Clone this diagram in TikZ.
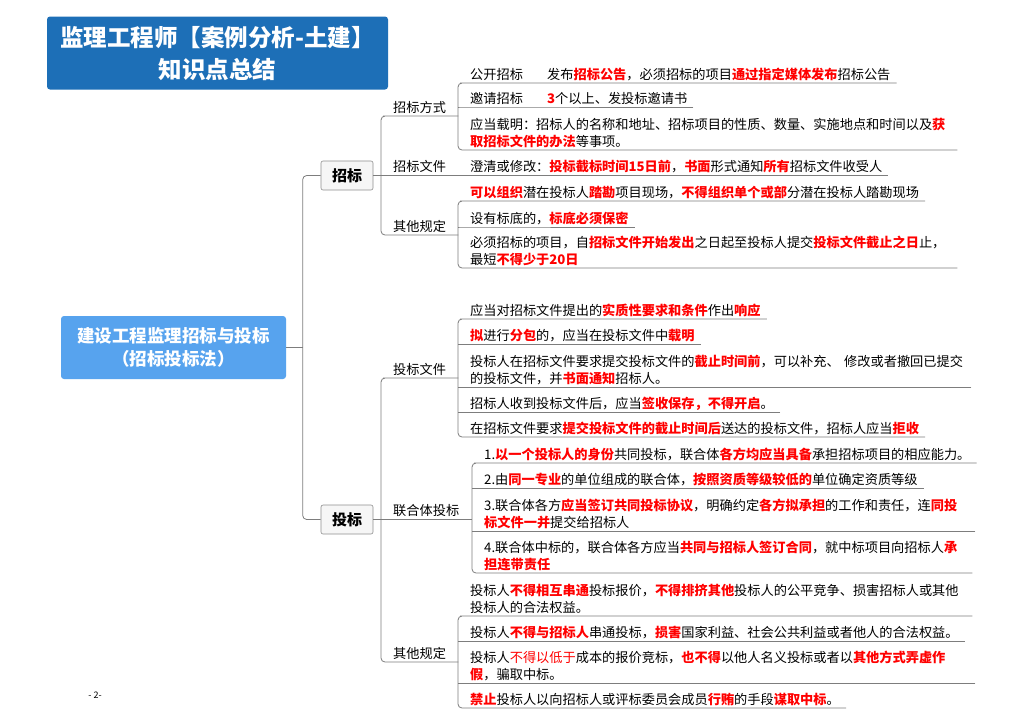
\documentclass[tikz,border=0pt]{standalone}
\usepackage{fontspec}
\setmainfont{Noto Sans CJK SC}
\usepackage{xcolor}
\usepackage{tikz}
\usetikzlibrary{positioning}
\definecolor{MapTitle}{HTML}{1D6FB7}
\definecolor{MapRoot}{HTML}{57A3EE}
\definecolor{MapBox}{HTML}{F6F6F6}
\definecolor{MapBoxLine}{HTML}{8F8F8F}
\definecolor{MapLine}{HTML}{7D7D7D}
\definecolor{MapKey}{HTML}{FF0000}
\newcommand{\keyred}[1]{\textcolor{MapKey}{\bfseries #1}}
\newcommand{\keysoft}[1]{\textcolor{MapKey}{#1}}
\newcommand{\leaffont}{\fontsize{13.2}{16.5}\selectfont}
\newcommand{\boxfont}{\fontsize{15}{17}\selectfont\bfseries}
\newcommand{\rootfont}{\fontsize{17.5}{23}\selectfont\bfseries}
\newcommand{\bannerfont}{\fontsize{23.5}{32}\selectfont\bfseries}
\newcommand{\topstrut}{\rule{0pt}{12pt}}
\newcommand{\lowstrut}{\rule[-3.5pt]{0pt}{3.5pt}}

\begin{document}
\begin{tikzpicture}[x=1pt,y=-1pt,
  link/.style={draw=MapLine,line width=0.8pt,rounded corners=4pt},
  leaf/.style={anchor=south west,xshift=6pt,inner xsep=6pt,inner ysep=0pt,
    font=\leaffont,align=left,execute at begin node=\topstrut,execute at end node=\lowstrut},
  branch/.style={leaf,text width=59pt},
  topic/.style={draw=MapBoxLine,fill=MapBox,rounded corners=2pt,line width=0.6pt,
    minimum width=52pt,minimum height=29pt,inner sep=0pt,font=\boxfont},
  banner/.style={fill=MapTitle,text=white,rounded corners=3pt,align=center,
    minimum width=341pt,minimum height=73pt,inner sep=0pt,font=\bannerfont},
  rootbox/.style={fill=MapRoot,text=white,rounded corners=3pt,align=center,
    minimum width=225pt,minimum height=63pt,inner sep=0pt,font=\rootfont}]
  \fill[white] (0,0) rectangle (1024,724);
  \useasboundingbox (0,0) rectangle (1024,724);

  \node[banner] (title) at (217.5,53) {监理工程师【案例分析-土建】\\知识点总结};
  \node[rootbox] (root) at (173.5,347.5) {建设工程监理招标与投标\\（招标投标法）};
  \node[topic] (zb) at (347,175.5) {招标};
  \node[topic] (tb) at (347,519.5) {投标};
  \node[font=\fontsize{9}{11}\selectfont] (page) at (95,695) {- 2-};

  \draw[link] (root.east) -- ++(17,0);
  \draw[link] (zb.west) -- ++(-18,0) |- (tb.west);

  \node[branch] (zbfs) at (381,116) {招标方式};
  \node[branch] (zbwj) at (381,175.5) {招标文件};
  \node[branch] (zbqt) at (381,235) {其他规定};
  \draw[link] (zbfs.south east) -- (zbfs.south west) -- ++(-6,0) |- (zbqt.south east);

  \node[leaf] (gk) at (458,83) {公开招标};
  \node[leaf] (gk1) at (535,83) {发布\keyred{招标公告}，必须招标的项目\keyred{通过指定媒体发布}招标公告};
  \node[leaf] (yq) at (458,107) {邀请招标};
  \node[leaf] (yq1) at (535,107) {\keyred{3}个以上、发投标邀请书};
  \node[leaf,text width=481pt] (zm) at (458,150) {应当载明：招标人的名称和地址、招标项目的性质、数量、实施地点和时间以及\keyred{获}\\\keyred{取招标文件的办法}等事项。};
  \draw[link] (gk1.south east) -- (gk.south west) -- ++(-6,0) |- (zm.south east);
  \draw[link] (yq1.south east) -- (yq.south west) -- ++(-6,0);

  \node[leaf] (cq) at (458,175.5) {澄清或修改：\keyred{投标截标时间15日前}，\keyred{书面}形式通知\keyred{所有}招标文件收受人};
  \draw[link] (zb.east) -- (cq.south east);

  \node[leaf] (kz) at (458,201) {\keyred{可以组织}潜在投标人\keyred{踏勘}项目现场，\keyred{不得组织单个或部}分潜在投标人踏勘现场};
  \node[leaf] (sd) at (458,227) {设有标底的，\keyred{标底必须保密}};
  \node[leaf,text width=481pt] (bx) at (458,268) {必须招标的项目，自\keyred{招标文件开始发出}之日起至投标人提交\keyred{投标文件截止之日}止，\\最短\keyred{不得少于20日}};
  \draw[link] (kz.south east) -- (kz.south west) -- ++(-6,0) |- (bx.south east);
  \draw[link] (sd.south east) -- (sd.south west) -- ++(-6,0);

  \node[branch] (tbwj) at (381,378) {投标文件};
  \node[branch,text width=73pt] (lht) at (381,519.5) {联合体投标};
  \node[branch] (tbqt) at (381,662) {其他规定};
  \draw[link] (tbwj.south east) -- (tbwj.south west) -- ++(-6,0) |- (tbqt.south east);
  \draw[link] (tb.east) -- (lht.south east);

  \node[leaf] (tw1) at (458,319) {应当对招标文件提出的\keyred{实质性要求和条件}作出\keyred{响应}};
  \node[leaf] (tw2) at (458,344) {\keyred{拟}进行\keyred{分包}的，应当在投标文件中\keyred{载明}};
  \node[leaf,text width=495pt] (tw3) at (458,387) {投标人在招标文件要求提交投标文件的\keyred{截止时间前}，可以补充、 修改或者撤回已提交\\的投标文件，并\keyred{书面通知}招标人。};
  \node[leaf] (tw4) at (458,412) {招标人收到投标文件后，应当\keyred{签收保存，不得开启}。};
  \node[leaf] (tw5) at (458,437) {在招标文件要求\keyred{提交投标文件的截止时间后}送达的投标文件，招标人应当\keyred{拒收}};
  \draw[link] (tw1.south east) -- (tw1.south west) -- ++(-6,0) |- (tw5.south east);
  \draw[link] (tw2.south east) -- (tw2.south west) -- ++(-6,0);
  \draw[link] (tw3.south east) -- (tw3.south west) -- ++(-6,0);
  \draw[link] (tw4.south east) -- (tw4.south west) -- ++(-6,0);

  \node[leaf] (lh1) at (472,463) {1.\keyred{以一个投标人的身份}共同投标，联合体\keyred{各方均应当具备}承担招标项目的相应能力。};
  \node[leaf] (lh2) at (472,488) {2.由\keyred{同一专业}的单位组成的联合体，\keyred{按照资质等级较低的}单位确定资质等级};
  \node[leaf,text width=485pt] (lh3) at (472,531) {3.联合体各方\keyred{应当签订共同投标协议}，明确约定\keyred{各方拟承担}的工作和责任，连\keyred{同投}\\\keyred{标文件一并}提交给招标人};
  \node[leaf,text width=482pt] (lh4) at (472,573) {4.联合体中标的，联合体各方应当\keyred{共同与招标人签订合同}，就中标项目向招标人\keyred{承}\\\keyred{担连带责任}};
  \draw[link] (lh1.south east) -- (lh1.south west) -- ++(-6,0) |- (lh4.south east);
  \draw[link] (lh2.south east) -- (lh2.south west) -- ++(-6,0);
  \draw[link] (lh3.south east) -- (lh3.south west) -- ++(-6,0);

  \node[leaf,text width=496pt] (qg1) at (458,616) {投标人\keyred{不得相互串通}投标报价，\keyred{不得排挤其他}投标人的公平竞争、损害招标人或其他\\投标人的合法权益。};
  \node[leaf] (qg2) at (458,641) {投标人\keyred{不得与招标人}串通投标，\keyred{损害}国家利益、社会公共利益或者他人的合法权益。};
  \node[leaf,text width=499pt] (qg3) at (458,683) {投标人\keysoft{不得以低于}成本的报价竞标，\keyred{也不得}以他人名义投标或者以\keyred{其他方式弄虚作}\\\keyred{假}，骗取中标。};
  \node[leaf] (qg4) at (458,708) {\keyred{禁止}投标人以向招标人或评标委员会成员\keyred{行贿}的手段\keyred{谋取中标}。};
  \draw[link] (qg1.south east) -- (qg1.south west) -- ++(-6,0) |- (qg4.south east);
  \draw[link] (qg2.south east) -- (qg2.south west) -- ++(-6,0);
  \draw[link] (qg3.south east) -- (qg3.south west) -- ++(-6,0);
\end{tikzpicture}
\end{document}
